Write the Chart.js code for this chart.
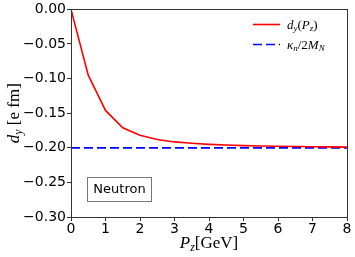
<!DOCTYPE html>
<html><head><meta charset="utf-8">
<script src="https://cdn.jsdelivr.net/npm/chart.js@4"></script>
<style>html,body{margin:0;padding:0;background:#fff}#wrap{width:355px;height:257px}</style>
</head><body><div id="wrap"><canvas id="c" width="355" height="257"></canvas></div>
<script>
const pz = [0,0.5,1,1.5,2,2.5,3,3.5,4,4.5,5,5.5,6,6.5,7,7.5,8];
const dy = [0,-0.095,-0.146,-0.171,-0.182,-0.188,-0.1915,-0.1935,-0.195,-0.196,-0.1968,-0.1974,-0.1978,-0.1982,-0.1985,-0.1987,-0.199];
const kappaLine = [-0.2,-0.2];
const kappaX = [0,8];
const xTicks = [0,1,2,3,4,5,6,7,8];
const yTicks = [0,-0.05,-0.10,-0.15,-0.20,-0.25,-0.30];
const boxLabel = "Neutron";

function fmtY(v){ if(Math.abs(v)<1e-9) return "0.00"; return (v<0?"\u2212":"")+Math.abs(v).toFixed(2); }

function subText(ctx, parts, x, y){
  let cx = x;
  for(const p of parts){ ctx.font = p[1]; ctx.fillText(p[0], cx, y + (p[2]||0)); cx += ctx.measureText(p[0]).width; }
  return cx - x;
}
function measureParts(ctx, parts){ let w=0; for(const p of parts){ctx.font=p[1]; w+=ctx.measureText(p[0]).width;} return w; }

const deco = {
  id:'deco',
  afterDraw(chart){
    const ctx = chart.ctx, a = chart.chartArea;
    ctx.save();
    ctx.strokeStyle='#333'; ctx.lineWidth=1;
    ctx.strokeRect(Math.round(a.left)+0.5, Math.round(a.top)+0.5, Math.round(a.right-a.left), Math.round(a.bottom-a.top));
    ctx.fillStyle='#000'; ctx.textBaseline='alphabetic';
    const it = 'italic 17px "Liberation Serif"', rm = '17px "Liberation Serif"', sub='italic 12px "Liberation Serif"';
    // x title
    const xp = [['P',it,0],['z',sub,3],['[GeV]',rm,0]];
    const xw = measureParts(ctx,xp);
    subText(ctx,xp,(a.left+a.right)/2 - xw/2, 248);
    // y title
    const yp = [['d',it,0],['y',sub,3],[' [e fm]',rm,0]];
    const yw = measureParts(ctx,yp);
    ctx.save(); ctx.translate(19,(a.top+a.bottom)/2); ctx.rotate(-Math.PI/2);
    subText(ctx,yp,-yw/2,0); ctx.restore();
    // legend
    const li='italic 13px "Liberation Serif"', ls='italic 9px "Liberation Serif"', lr='13px "Liberation Serif"';
    ctx.lineWidth=1.6; ctx.strokeStyle='#ff0000'; ctx.setLineDash([]);
    ctx.beginPath(); ctx.moveTo(253,24.5); ctx.lineTo(280,24.5); ctx.stroke();
    ctx.strokeStyle='#0000ff'; ctx.setLineDash([9,4]);
    ctx.beginPath(); ctx.moveTo(253,44.5); ctx.lineTo(280,44.5); ctx.stroke();
    ctx.setLineDash([]);
    subText(ctx,[['d',li,0],['y',ls,2],['(',lr,0],['P',li,0],['z',ls,2],[')',lr,0]],287,29);
    subText(ctx,[['\u03ba',li,0],['n',ls,2],['/2',lr,0],['M',li,0],['N',ls,2]],287,49);
    // neutron box
    ctx.strokeStyle='#777'; ctx.lineWidth=1;
    ctx.strokeRect(87.5,177.5,64,24);
    ctx.font='13px "DejaVu Sans"'; ctx.textAlign='center'; ctx.textBaseline='middle';
    ctx.fillText(boxLabel,119.5,190);
    ctx.restore();
  }
};

new Chart(document.getElementById('c'),{
  type:'line',
  data:{datasets:[
    {label:'d_y(P_z)',data:pz.map((x,i)=>({x:x,y:dy[i]})),borderColor:'#ff0000',borderWidth:1.6,pointRadius:0,tension:0,fill:false},
    {label:'kappa_n/2M_N',data:kappaX.map((x,i)=>({x:x,y:kappaLine[i]})),borderColor:'#0000ff',borderWidth:1.8,borderDash:[9,4],pointRadius:0,fill:false}
  ]},
  options:{
    responsive:false,animation:false,
    layout:{padding:{top:8,right:8,left:0,bottom:0}},
    plugins:{legend:{display:false},tooltip:{enabled:false}},
    scales:{
      x:{type:'linear',min:0,max:8,
        afterBuildTicks(s){s.ticks=xTicks.map(v=>({value:v}));},
        afterFit(s){s.height=40;},
        grid:{display:true,drawOnChartArea:false,drawTicks:true,tickLength:4,color:'#333'},
        border:{display:false},
        ticks:{color:'#000',font:{family:'DejaVu Sans',size:14},padding:0,maxRotation:0,autoSkip:false,callback:v=>String(v)}},
      y:{type:'linear',min:-0.3,max:0,
        afterBuildTicks(s){s.ticks=yTicks.map(v=>({value:v}));},
        afterFit(s){s.width=71;},
        grid:{display:true,drawOnChartArea:false,drawTicks:true,tickLength:4,color:'#333'},
        border:{display:false},
        ticks:{color:'#000',font:{family:'DejaVu Sans',size:14},padding:1,autoSkip:false,callback:v=>fmtY(v)}}
    }
  },
  plugins:[deco]
});
</script></body></html>
